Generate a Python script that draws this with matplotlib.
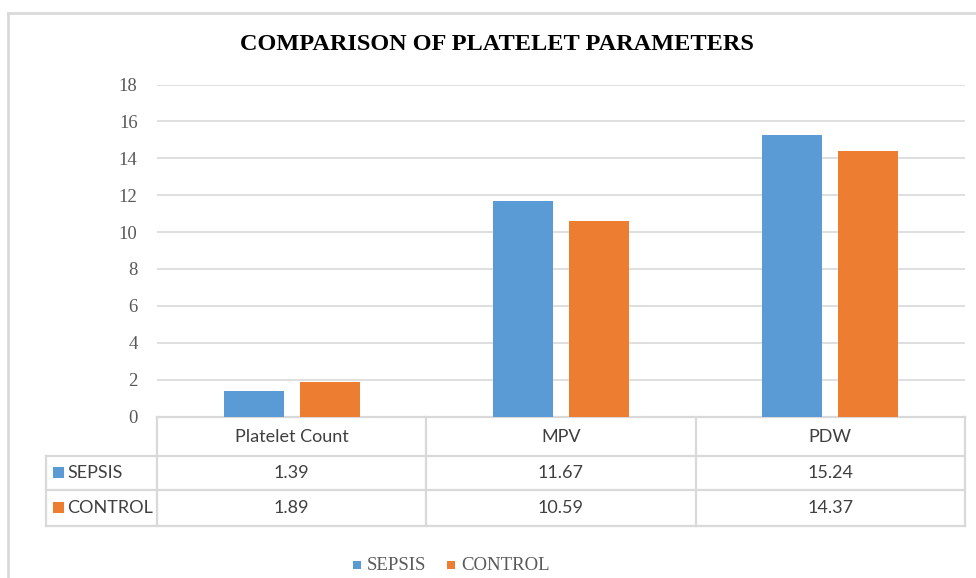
import matplotlib
matplotlib.use("Agg")
import matplotlib.pyplot as plt
import numpy as np

categories = ["Platelet Count", "MPV", "PDW"]
series_names = ["SEPSIS", "CONTROL"]
sepsis = [1.39, 11.67, 15.24]
control = [1.89, 10.59, 14.37]
yticks = [0, 2, 4, 6, 8, 10, 12, 14, 16, 18]
title = "COMPARISON OF PLATELET PARAMETERS"

colors = ["#5B9BD5", "#ED7D31"]
grid_c = "#D9D9D9"
text_c = "#595959"
table_c = "#404040"

W, H = 976, 578
fig = plt.figure(figsize=(W / 100, H / 100), dpi=100)

# overlay axes in pixel coordinates for frame & table
lay = fig.add_axes([0, 0, 1, 1], zorder=0)
lay.set_xlim(0, W)
lay.set_ylim(H, 0)
lay.axis("off")

# plot area
x0, x1 = 157, 965
ytop, ybot = 84.5, 416.5
ax = fig.add_axes([x0 / W, 1 - ybot / H, (x1 - x0) / W, (ybot - ytop) / H], zorder=1)
ax.patch.set_alpha(0)

n = len(categories)
x = np.arange(n)
bw = 0.222
off = 0.141
ax.bar(x - off, sepsis, bw, color=colors[0], zorder=3)
ax.bar(x + off, control, bw, color=colors[1], zorder=3)
ax.set_xlim(-0.5, n - 0.5)
ax.set_ylim(0, 18)
ax.set_yticks(yticks)
ax.set_yticklabels([str(t) for t in yticks], family="Liberation Serif", fontsize=13.5, color=text_c)
ax.tick_params(axis="y", length=0, pad=14)
ax.set_xticks([])
ax.yaxis.grid(True, color=grid_c, linewidth=1.2, zorder=0)
for s in ax.spines.values():
    s.set_visible(False)

# title
fig.text(497 / W, 1 - 44 / H, title, ha="center", va="center",
         family="Liberation Serif", weight="bold", fontsize=17.5, color="#000000")

# outer frame
lay.plot([8, 8], [13, H], color=grid_c, lw=2)
lay.plot([8, W], [13, 13], color=grid_c, lw=2)

# data table
rows_y = [416.5, 456, 490, 526]
col_x = [157 + i * (x1 - x0) / n for i in range(n + 1)]
tl = 46
lw = 1.6
lay.plot([x0, x1], [rows_y[0], rows_y[0]], color=grid_c, lw=lw)
for yy in rows_y[1:]:
    lay.plot([tl, x1], [yy, yy], color=grid_c, lw=lw)
for cx in col_x:
    lay.plot([cx, cx], [rows_y[0], rows_y[-1]], color=grid_c, lw=lw)
lay.plot([tl, tl], [rows_y[1], rows_y[-1]], color=grid_c, lw=lw)

tfont = "Lato"
tsize = 13
for i, cat in enumerate(categories):
    cx = (col_x[i] + col_x[i + 1]) / 2
    lay.text(cx, (rows_y[0] + rows_y[1]) / 2 + 1, cat, ha="center", va="center",
             family=tfont, fontsize=tsize, color=table_c)
    for r, vals in enumerate([sepsis, control]):
        cy = (rows_y[r + 1] + rows_y[r + 2]) / 2
        lay.text(cx, cy, f"{vals[i]:.2f}", ha="center", va="center",
                 family=tfont, fontsize=tsize, color=table_c)

for r, name in enumerate(series_names):
    cy = (rows_y[r + 1] + rows_y[r + 2]) / 2
    lay.add_patch(plt.Rectangle((53, cy - 6), 11, 11, color=colors[r], lw=0))
    lay.text(67, cy, name, ha="left", va="center", family=tfont, fontsize=tsize, color=table_c)

# legend
leg_y = 566
leg_items = [(357, 0), (451, 1)]
for lx, r in leg_items:
    lay.add_patch(plt.Rectangle((lx - 4, leg_y - 5), 8, 8, color=colors[r], lw=0))
    lay.text(lx + 10, leg_y, series_names[r], ha="left", va="center",
             family="Liberation Serif", fontsize=13.5, color=text_c)

fig.savefig("out.png", dpi=100)
